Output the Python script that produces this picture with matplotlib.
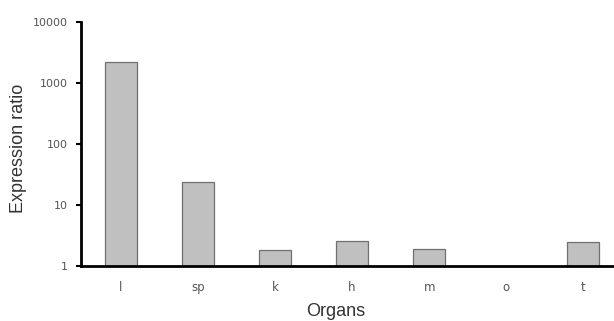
import numpy as np
import matplotlib
matplotlib.use("Agg")
import matplotlib.pyplot as plt
from matplotlib.ticker import FixedLocator, NullLocator

organs = ["l", "sp", "k", "h", "m", "o", "t"]
ratios = [2200, 23.8, 1.83, 2.6, 1.92, np.nan, 2.47]
yticks = [1, 10, 100, 1000, 10000]
ytick_labels = ["1", "10", "100", "1000", "10000"]

plt.rcParams['font.family'] = ['DejaVu Sans']

fig = plt.figure(figsize=(6.14, 3.21), dpi=100)
ax = fig.add_axes([81/614, 1-266/321, 1-81/614, (266-22)/321])

x = np.arange(len(organs))
ax.bar(x, ratios, width=0.41, color="#c0c0c0", edgecolor="#707070", linewidth=0.9, bottom=0)
ax.set_yscale("log")
ax.set_ylim(1, 10000)
ax.set_xlim(-0.52, 6.4)
ax.yaxis.set_major_locator(FixedLocator(yticks))
ax.set_yticklabels(ytick_labels)
ax.yaxis.set_minor_locator(NullLocator())
ax.set_xticks(x)
ax.set_xticklabels(organs)
ax.tick_params(axis="x", length=0, pad=11, labelsize=8.5, labelcolor="#555555")
ax.tick_params(axis="y", length=3.5, width=1.5, direction="out", pad=6, labelsize=8, labelcolor="#555555")

for s in ["top", "right"]:
    ax.spines[s].set_visible(False)
ax.spines["left"].set_linewidth(2)
ax.spines["bottom"].set_linewidth(2)

ax.set_xlabel("Organs", fontsize=13, color="#333333", family=["Liberation Sans", "DejaVu Sans"])
ax.set_ylabel("Expression ratio", fontsize=13, color="#333333", family=["Liberation Sans", "DejaVu Sans"])
ax.xaxis.set_label_coords((336 - 81) / 533, (266 - 312) / 244)
ax.yaxis.set_label_coords((19 - 81) / 533, (266 - 148) / 244)
ax.xaxis.label.set_va("center")
ax.yaxis.label.set_va("center")

fig.savefig("out.png", dpi=100)
